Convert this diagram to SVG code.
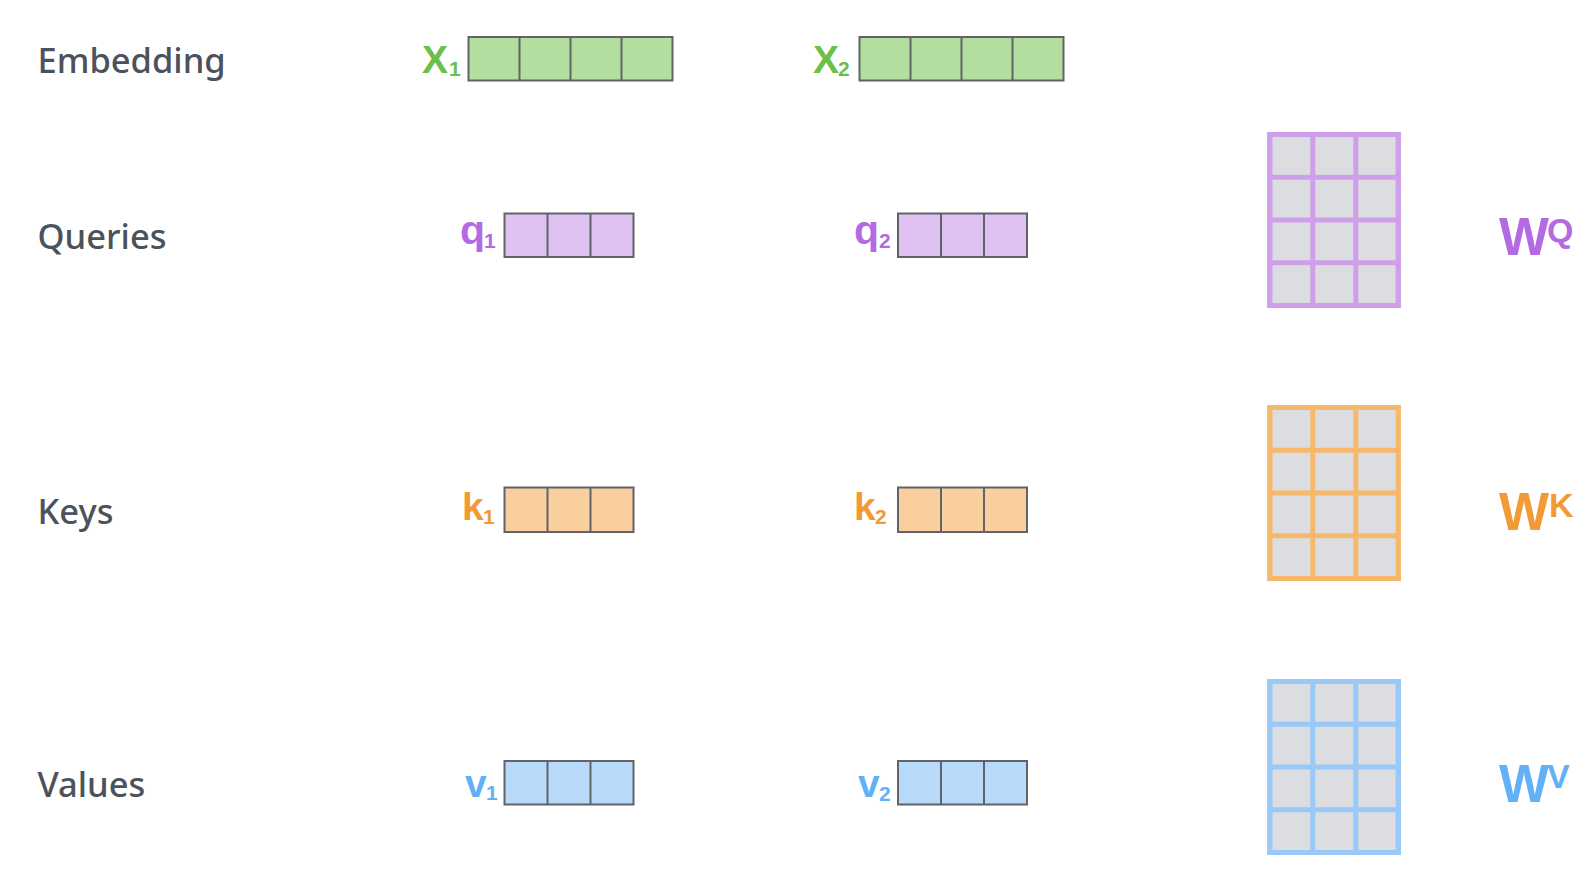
<svg xmlns="http://www.w3.org/2000/svg" width="1591" height="886" viewBox="0 0 1591 886">
<style>
.lbl{font-family:"Noto Sans","Open Sans",sans-serif;font-size:34.5px;font-weight:500;fill:#4c525b}
.sym{font-family:"Liberation Sans",Arial,sans-serif;font-weight:bold}
.sub{font-family:"Liberation Sans",Arial,sans-serif;font-weight:bold;font-size:21px}
.vec{stroke:#616367;stroke-width:2}
.green{fill:#6cc04a}.purple{fill:#b36ae2}.orange{fill:#f29a34}.blue{fill:#62b1f6}
.gfill{fill:#b4dea0}.pfill{fill:#dfc2f1}.ofill{fill:#f9cf9f}.bfill{fill:#b7dafa}
.cell{fill:#dcdde0}
.mat{fill:none;stroke-width:5}
</style>
<rect width="1591" height="886" fill="#ffffff"/>
<g id="labels">
<text class="lbl" x="37.5" y="72.5">Embedding</text>
<text class="lbl" x="37.5" y="248.5">Queries</text>
<text class="lbl" x="37.5" y="524">Keys</text>
<text class="lbl" x="37.5" y="796.5">Values</text>
</g>
<g id="x1">
<text class="sym green" x="422" y="73" font-size="39">X</text>
<text class="sub green" x="449" y="76" font-size="19">1</text>
<g class="vec gfill"><rect x="468.5" y="37" width="204" height="43.5"/></g>
<g class="vec"><line x1="519.5" y1="37" x2="519.5" y2="80.5"/><line x1="570.5" y1="37" x2="570.5" y2="80.5"/><line x1="621.5" y1="37" x2="621.5" y2="80.5"/></g>
</g>
<g id="x2">
<text class="sym green" x="813" y="73" font-size="39">X</text>
<text class="sub green" x="838" y="76">2</text>
<g class="vec gfill"><rect x="859.5" y="37" width="204" height="43.5"/></g>
<g class="vec"><line x1="910.5" y1="37" x2="910.5" y2="80.5"/><line x1="961.5" y1="37" x2="961.5" y2="80.5"/><line x1="1012.5" y1="37" x2="1012.5" y2="80.5"/></g>
</g>
<g id="q1">
<text class="sym purple" x="460" y="244" font-size="41">q</text>
<text class="sub purple" x="484" y="248">1</text>
<g class="vec pfill"><rect x="504.5" y="213.5" width="129" height="43.5"/></g>
<g class="vec"><line x1="547.5" y1="213.5" x2="547.5" y2="257"/><line x1="590.5" y1="213.5" x2="590.5" y2="257"/></g>
</g>
<g id="q2">
<text class="sym purple" x="854" y="244" font-size="41">q</text>
<text class="sub purple" x="879" y="248">2</text>
<g class="vec pfill"><rect x="898" y="213.5" width="129" height="43.5"/></g>
<g class="vec"><line x1="941" y1="213.5" x2="941" y2="257"/><line x1="984" y1="213.5" x2="984" y2="257"/></g>
</g>
<g id="k1">
<text class="sym orange" x="462" y="520" font-size="39">k</text>
<text class="sub orange" x="483" y="523.5">1</text>
<g class="vec ofill"><rect x="504.5" y="487.5" width="129" height="44.5"/></g>
<g class="vec"><line x1="547.5" y1="487.5" x2="547.5" y2="532"/><line x1="590.5" y1="487.5" x2="590.5" y2="532"/></g>
</g>
<g id="k2">
<text class="sym orange" x="854" y="520" font-size="39">k</text>
<text class="sub orange" x="875" y="524" font-size="23">2</text>
<g class="vec ofill"><rect x="898" y="487.5" width="129" height="44.5"/></g>
<g class="vec"><line x1="941" y1="487.5" x2="941" y2="532"/><line x1="984" y1="487.5" x2="984" y2="532"/></g>
</g>
<g id="v1">
<text class="sym blue" x="465" y="797" font-size="39">v</text>
<text class="sub blue" x="486" y="800">1</text>
<g class="vec bfill"><rect x="504.5" y="761" width="129" height="43.5"/></g>
<g class="vec"><line x1="547.5" y1="761" x2="547.5" y2="804.5"/><line x1="590.5" y1="761" x2="590.5" y2="804.5"/></g>
</g>
<g id="v2">
<text class="sym blue" x="858" y="797" font-size="39">v</text>
<text class="sub blue" x="879" y="800.5" font-size="23">2</text>
<g class="vec bfill"><rect x="898" y="761" width="129" height="43.5"/></g>
<g class="vec"><line x1="941" y1="761" x2="941" y2="804.5"/><line x1="984" y1="761" x2="984" y2="804.5"/></g>
</g>
<defs>
<g id="grid">
<rect class="cell" x="0" y="0" width="128.5" height="171"/>
<rect class="mat" x="0" y="0" width="128.5" height="171"/>
<line x1="43" y1="0" x2="43" y2="171"/><line x1="86" y1="0" x2="86" y2="171"/>
<line x1="0" y1="42.75" x2="128.5" y2="42.75"/><line x1="0" y1="85.5" x2="128.5" y2="85.5"/><line x1="0" y1="128.25" x2="128.5" y2="128.25"/>
</g>
</defs>
<g id="wq">
<use href="#grid" x="1269.8" y="134.5" stroke="#d09fe9" stroke-width="5"/>
<text class="sym purple" x="1499" y="255" font-size="53">W</text>
<text class="sym purple" x="1547" y="241.7" font-size="34">Q</text>
</g>
<g id="wk">
<use href="#grid" x="1269.8" y="407.5" stroke="#f6b86b" stroke-width="5"/>
<text class="sym orange" x="1499" y="530" font-size="53">W</text>
<text class="sym orange" x="1549" y="516.7" font-size="34">K</text>
</g>
<g id="wv">
<use href="#grid" x="1269.8" y="681.5" stroke="#98c9f8" stroke-width="5"/>
<text class="sym blue" x="1499" y="801.5" font-size="53">W</text>
<text class="sym blue" x="1547" y="788.3" font-size="34">V</text>
</g>
<g id="connectors"/>
</svg>
